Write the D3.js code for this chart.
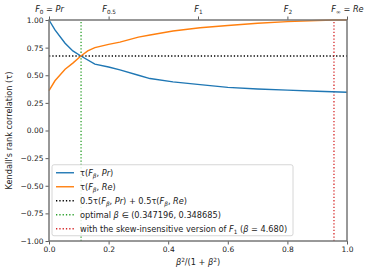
<!DOCTYPE html>
<html>
<head>
<meta charset="utf-8">
<script src="https://cdnjs.cloudflare.com/ajax/libs/d3/7.8.5/d3.min.js"></script>
<style>
  body { margin: 0; background: #fff; }
  text { font-family: "DejaVu Sans", sans-serif; }
</style>
</head>
<body>
<script>
// curve samples (x = beta^2/(1+beta^2))
var xPr = [0, 0.02, 0.054, 0.08, 0.107, 0.154, 0.2, 0.238, 0.3, 0.339, 0.416, 0.507, 0.6, 0.7, 0.8, 0.9, 1.0];
var tauPr = [1.0, 0.91, 0.79, 0.72, 0.674, 0.60, 0.575, 0.548, 0.50, 0.47, 0.44, 0.415, 0.39, 0.375, 0.365, 0.355, 0.346];
var xRe = [0, 0.02, 0.054, 0.08, 0.107, 0.13, 0.154, 0.2, 0.238, 0.3, 0.339, 0.416, 0.507, 0.6, 0.7, 0.8, 0.9, 0.956, 1.0];
var tauRe = [0.36, 0.45, 0.554, 0.61, 0.674, 0.72, 0.75, 0.78, 0.80, 0.845, 0.864, 0.90, 0.93, 0.95, 0.97, 0.985, 0.995, 1.0, 1.0];
var avgTau = 0.674;
var optX = 0.1076;   // beta = 0.3472
var skewX = 0.9563;  // beta = 4.680
var xTicks = [0, 0.2, 0.4, 0.6, 0.8, 1.0];
var yTicks = [-1, -0.75, -0.5, -0.25, 0, 0.25, 0.5, 0.75, 1];
var topTicks = [0, 0.2, 0.5, 0.8, 1.0];
var topLabels = [["F", "0", "Pr"], ["F", "0.5", ""], ["F", "1", ""], ["F", "2", ""], ["F", "\u221e", "Re"]];

var W = 369, H = 276;
var margin = {top: 20, right: 22, bottom: 35, left: 49};
var width = W - margin.left - margin.right,
    height = H - margin.top - margin.bottom;

var svg = d3.select("body").append("svg")
  .attr("width", W).attr("height", H);
var g = svg.append("g")
  .attr("transform", "translate(" + margin.left + "," + margin.top + ")");

var x = d3.scaleLinear().domain([0, 1]).range([0, width]);
var y = d3.scaleLinear().domain([-1, 1]).range([height, 0]);

var fs = 7.5;   // tick labels
var lfs = 8.2;  // legend and axis titles

var xAxis = g.append("g").attr("transform", "translate(0," + height + ")")
  .call(d3.axisBottom(x).tickValues(xTicks).tickFormat(d3.format(".1f")).tickSize(3.5).tickPadding(2));
var yAxis = g.append("g")
  .call(d3.axisLeft(y).tickValues(yTicks).tickFormat(function(d) { return d3.format(".2f")(d).replace("-", "\u2212"); }).tickSize(3.5).tickPadding(2));
var tAxis = g.append("g")
  .call(d3.axisTop(x).tickValues(topTicks).tickFormat("").tickSize(3.5));
[xAxis, yAxis, tAxis].forEach(function(a) {
  a.select(".domain").remove();
  a.selectAll("line").attr("stroke", "#333").attr("stroke-width", 0.8);
  a.selectAll("text").attr("font-size", fs).attr("fill", "#222").style("font-family", "DejaVu Sans");
});

// top labels F_beta with subscripts
tAxis.selectAll(".tick").each(function(d, i) {
  var lab = topLabels[i];
  var t = d3.select(this).append("text")
    .attr("y", -8).attr("text-anchor", "middle")
    .attr("font-size", lfs).attr("fill", "#222");
  t.append("tspan").attr("font-style", "italic").text(lab[0]);
  t.append("tspan").attr("font-size", lfs * 0.7).attr("dy", 2).text(lab[1]);
  if (lab[2]) {
    t.append("tspan").attr("dy", -2).text(" = ");
    t.append("tspan").attr("font-style", "italic").text(lab[2]);
  }
});

// reference lines
function dotted(x1, y1, x2, y2, c) {
  g.append("line").attr("x1", x1).attr("y1", y1).attr("x2", x2).attr("y2", y2)
    .attr("stroke", c).attr("stroke-width", 1.3).attr("stroke-dasharray", "1.3,2");
}
dotted(x(0), y(avgTau), x(1), y(avgTau), "#000");
dotted(x(optX), y(-1), x(optX), y(1), "#2ca02c");
dotted(x(skewX), y(-1), x(skewX), y(1), "#d62728");

var line = d3.line().x(function(d) { return x(d[0]); }).y(function(d) { return y(d[1]); });
g.append("path").attr("d", line(d3.zip(xPr, tauPr)))
  .attr("fill", "none").attr("stroke", "#1f77b4").attr("stroke-width", 1.4);
g.append("path").attr("d", line(d3.zip(xRe, tauRe)))
  .attr("fill", "none").attr("stroke", "#ff7f0e").attr("stroke-width", 1.4);

// frame
g.append("rect").attr("width", width).attr("height", height)
  .attr("fill", "none").attr("stroke", "#777").attr("stroke-width", 1.5);

// legend
var leg = g.append("g").attr("transform", "translate(3," + y(-0.31) + ")");
leg.append("rect").attr("width", 241).attr("height", 71).attr("rx", 2)
  .attr("fill", "#fff").attr("fill-opacity", 0.85).attr("stroke", "#ccc").attr("stroke-width", 0.8);
var items = [
  {c: "#1f77b4", dash: null},
  {c: "#ff7f0e", dash: null},
  {c: "#000", dash: "1.3,2"},
  {c: "#2ca02c", dash: "1.3,2"},
  {c: "#d62728", dash: "1.3,2"}
];
items.forEach(function(it, i) {
  var yy = 8 + i * 14;
  leg.append("line").attr("x1", 4).attr("x2", 22).attr("y1", yy).attr("y2", yy)
    .attr("stroke", it.c).attr("stroke-width", 1.4).attr("stroke-dasharray", it.dash);
  var t = leg.append("text").attr("x", 28).attr("y", yy + 3).attr("font-size", lfs).attr("fill", "#222");
  function tau(ref) {
    t.append("tspan").text("\u03c4(");
    t.append("tspan").attr("font-style", "italic").text("F");
    t.append("tspan").attr("font-style", "italic").attr("font-size", lfs * 0.7).attr("dy", 2).text("\u03b2");
    t.append("tspan").attr("dy", -2).text(", ");
    t.append("tspan").attr("font-style", "italic").text(ref);
    t.append("tspan").text(")");
  }
  if (i === 0) tau("Pr");
  if (i === 1) tau("Re");
  if (i === 2) { t.append("tspan").text("0.5"); tau("Pr"); t.append("tspan").text(" + 0.5"); tau("Re"); }
  if (i === 3) {
    t.append("tspan").text("optimal ");
    t.append("tspan").attr("font-style", "italic").text("\u03b2");
    t.append("tspan").text(" \u2208 (0.347196, 0.348685)");
  }
  if (i === 4) {
    t.append("tspan").text("with the skew-insensitive version of ");
    t.append("tspan").attr("font-style", "italic").text("F");
    t.append("tspan").attr("font-size", lfs * 0.7).attr("dy", 2).text("1");
    t.append("tspan").attr("dy", -2).text(" (");
    t.append("tspan").attr("font-style", "italic").text("\u03b2");
    t.append("tspan").text(" = 4.680)");
  }
});

// axis titles
var xl = svg.append("text").attr("x", margin.left + width / 2).attr("y", 265)
  .attr("text-anchor", "middle").attr("font-size", lfs).attr("fill", "#222");
xl.append("tspan").attr("font-style", "italic").text("\u03b2");
xl.append("tspan").attr("font-size", lfs * 0.7).attr("dy", -3.2).text("2");
xl.append("tspan").attr("dy", 3.2).text("/(1 + ");
xl.append("tspan").attr("font-style", "italic").text("\u03b2");
xl.append("tspan").attr("font-size", lfs * 0.7).attr("dy", -3.2).text("2");
xl.append("tspan").attr("dy", 3.2).text(")");

svg.append("text")
  .attr("transform", "translate(12," + (margin.top + height / 2) + ") rotate(-90)")
  .attr("text-anchor", "middle").attr("font-size", lfs).attr("fill", "#222")
  .text("Kendall's rank correlation (\u03c4)");
</script>
</body>
</html>
